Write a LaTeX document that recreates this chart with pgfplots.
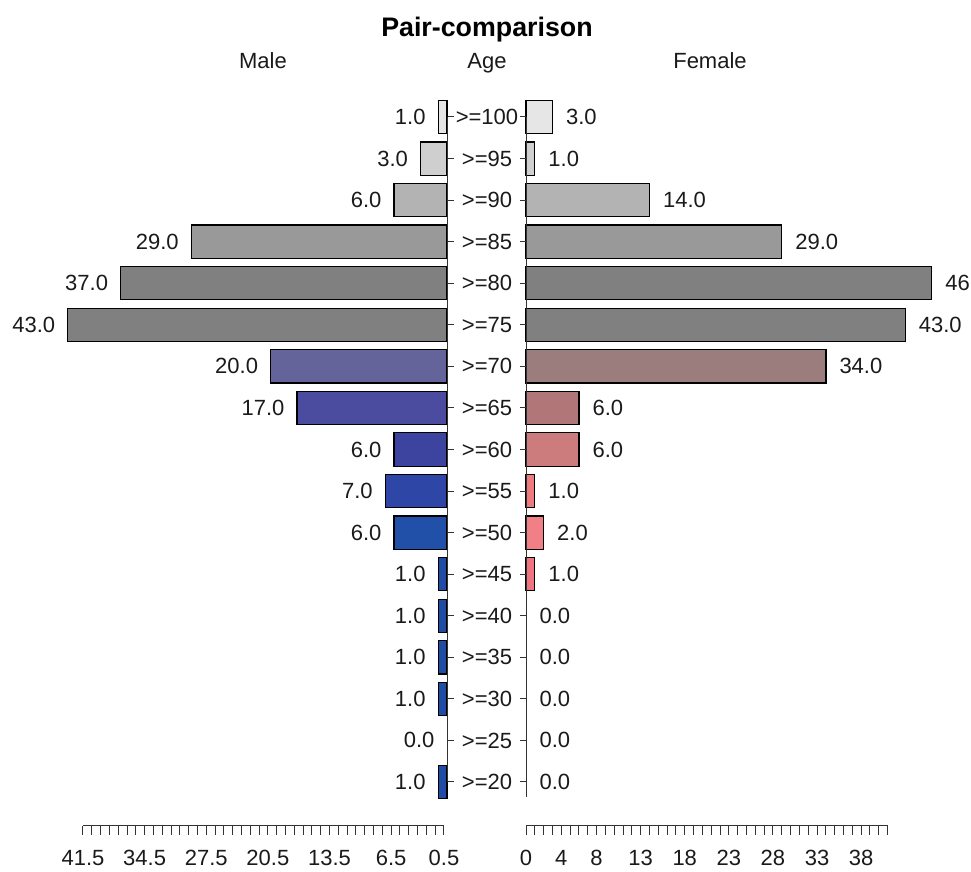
\documentclass[border=0pt]{standalone}
\usepackage{pgfplots}
\pgfplotsset{compat=1.18}
\usepackage{fontspec}
\setmainfont{Liberation Sans}
\newcommand\valfont{\fontsize{11}{13.2}\selectfont}
\definecolor{txt}{HTML}{1A1A1A}
\definecolor{axc}{HTML}{333333}
% colours (index 17 = >=100 ... 1 = >=20)
\definecolor{g1}{HTML}{E6E6E6}
\definecolor{g2}{HTML}{CFCFCF}
\definecolor{g3}{HTML}{B3B3B3}
\definecolor{g4}{HTML}{999999}
\definecolor{g5}{HTML}{808080}
\definecolor{m11}{HTML}{64649A}
\definecolor{m10}{HTML}{4B4BA0}
\definecolor{m9}{HTML}{3C44A0}
\definecolor{m8}{HTML}{2E46A6}
\definecolor{m7}{HTML}{2150A8}
\definecolor{m6}{HTML}{1F4CA4}
\definecolor{f11}{HTML}{9B7D7E}
\definecolor{f10}{HTML}{B07678}
\definecolor{f9}{HTML}{CC7C7D}
\definecolor{f8}{HTML}{EE7A80}
\definecolor{f7}{HTML}{F08086}
\definecolor{f6}{HTML}{EE7480}
\pgfplotsset{
  pyr/.style={scale only axis, height=436pt, ymin=-1.1654, ymax=19.815,
    hide axis, clip=false, xbar, bar width=0.8, bar shift=0pt,
    point meta=x,
    nodes near coords={\pgfmathprintnumber[fixed,zerofill,precision=1,assume math mode=true]{\pgfplotspointmeta}},
    every axis plot/.append style={draw=black, line width=0.6pt}},
  zero/.style={draw=none, fill=none},
  bot/.style={scale only axis, height=4pt, ymin=0, ymax=1,
    axis x line*=bottom, axis y line=none, tick align=outside,
    major tick length=4.5pt, minor tick length=4.5pt,
    tick style={line width=0.5pt, color=axc},
    axis line style={line width=0.5pt, color=axc},
    xticklabel style={font=\valfont, text=txt, yshift=-4pt}},
}
\begin{document}
\begin{tikzpicture}
\useasboundingbox (0,0) rectangle (485.5pt,436pt);
% ---------- Male ----------
\begin{axis}[pyr, name=male, at={(0pt,0pt)}, anchor=south west,
  width=223.5pt, x dir=reverse, xmin=0, xmax=50.68,
  every node near coord/.append style={anchor=east, xshift=-6pt, inner sep=0pt, font=\valfont, text=txt}]
\addplot[fill=g1] coordinates {(1,17)};
\addplot[fill=g2] coordinates {(3,16)};
\addplot[fill=g3] coordinates {(6,15)};
\addplot[fill=g4] coordinates {(29,14)};
\addplot[fill=g5] coordinates {(37,13)};
\addplot[fill=g5] coordinates {(43,12)};
\addplot[fill=m11] coordinates {(20,11)};
\addplot[fill=m10] coordinates {(17,10)};
\addplot[fill=m9] coordinates {(6,9)};
\addplot[fill=m8] coordinates {(7,8)};
\addplot[fill=m7] coordinates {(6,7)};
\addplot[fill=m6] coordinates {(1,6)};
\addplot[fill=m6] coordinates {(1,5)};
\addplot[fill=m6] coordinates {(1,4)};
\addplot[fill=m6] coordinates {(1,3)};
\addplot[zero] coordinates {(0,2)};
\addplot[fill=m6] coordinates {(1,1)};
\end{axis}
% ---------- Female ----------
\begin{axis}[pyr, name=female, at={(263pt,0pt)}, anchor=south west,
  width=222.5pt, xmin=0, xmax=50.45,
  every node near coord/.append style={anchor=west, xshift=6.5pt, inner sep=0pt, font=\valfont, text=txt}]
\addplot[fill=g1] coordinates {(3,17)};
\addplot[fill=g2] coordinates {(1,16)};
\addplot[fill=g3] coordinates {(14,15)};
\addplot[fill=g4] coordinates {(29,14)};
\addplot[fill=g5] coordinates {(46,13)};
\addplot[fill=g5] coordinates {(43,12)};
\addplot[fill=f11] coordinates {(34,11)};
\addplot[fill=f10] coordinates {(6,10)};
\addplot[fill=f9] coordinates {(6,9)};
\addplot[fill=f8] coordinates {(1,8)};
\addplot[fill=f7] coordinates {(2,7)};
\addplot[fill=f6] coordinates {(1,6)};
\addplot[zero] coordinates {(0,5)};
\addplot[zero] coordinates {(0,4)};
\addplot[zero] coordinates {(0,3)};
\addplot[zero] coordinates {(0,2)};
\addplot[zero] coordinates {(0,1)};
\end{axis}
% ---------- centre axes ----------
\begin{axis}[scale only axis, at={(223.75pt,45pt)}, anchor=south west,
  width=39.25pt, height=332.5pt, xmin=0, xmax=1, ymin=1, ymax=17,
  axis y line*=left, axis x line=none, tick align=inside,
  major tick length=3pt,
  tick style={line width=0.5pt, color=axc},
  axis line style={line width=0.5pt, color=axc},
  ytick={1,...,17},
  yticklabels={{>=20},{>=25},{>=30},{>=35},{>=40},{>=45},{>=50},{>=55},{>=60},{>=65},{>=70},{>=75},{>=80},{>=85},{>=90},{>=95},{>=100}},
  yticklabel style={anchor=center, xshift=19.75pt, font=\valfont, text=txt}]
\addplot[draw=none] coordinates {(0,1)};
\end{axis}
\begin{axis}[scale only axis, at={(263pt,37.5pt)}, anchor=south east,
  width=39.25pt, height=340pt, xmin=0, xmax=1, ymin=0.6391, ymax=17,
  axis y line*=right, axis x line=none, tick align=inside,
  major tick length=3pt,
  tick style={line width=0.5pt, color=axc},
  axis line style={line width=0.5pt, color=axc},
  ytick={1,...,17}, yticklabels={}]
\addplot[draw=none] coordinates {(0,1)};
\end{axis}
% ---------- bottom scales ----------
\begin{axis}[bot, at={(41.5pt,23pt)}, anchor=south west,
  width=180.5pt, x dir=reverse, xmin=0.5, xmax=41.5,
  xtick={0.5,6.5,13.5,20.5,27.5,34.5,41.5},
  xticklabels={0.5,6.5,13.5,20.5,27.5,34.5,41.5},
  minor xtick={0.5,1.5,...,41.5}]
\addplot[draw=none] coordinates {(1,0)};
\end{axis}
\begin{axis}[bot, at={(263pt,23pt)}, anchor=south west,
  width=180.8pt, xmin=0, xmax=41,
  xtick={0,4,8,13,18,23,28,33,38},
  xticklabels={0,4,8,13,18,23,28,33,38},
  minor xtick={0,1,...,41}]
\addplot[draw=none] coordinates {(1,0)};
\end{axis}
% ---------- titles ----------
\node[anchor=base, font=\bfseries\fontsize{13.4}{16}\selectfont, text=black] at (243.5pt,417.5pt) {Pair-comparison};
\node[anchor=base, font=\valfont, text=txt] at (131.5pt,401.5pt) {Male};
\node[anchor=base, font=\valfont, text=txt] at (243.5pt,401.5pt) {Age};
\node[anchor=base, font=\valfont, text=txt] at (355pt,401.5pt) {Female};
\end{tikzpicture}
\end{document}
